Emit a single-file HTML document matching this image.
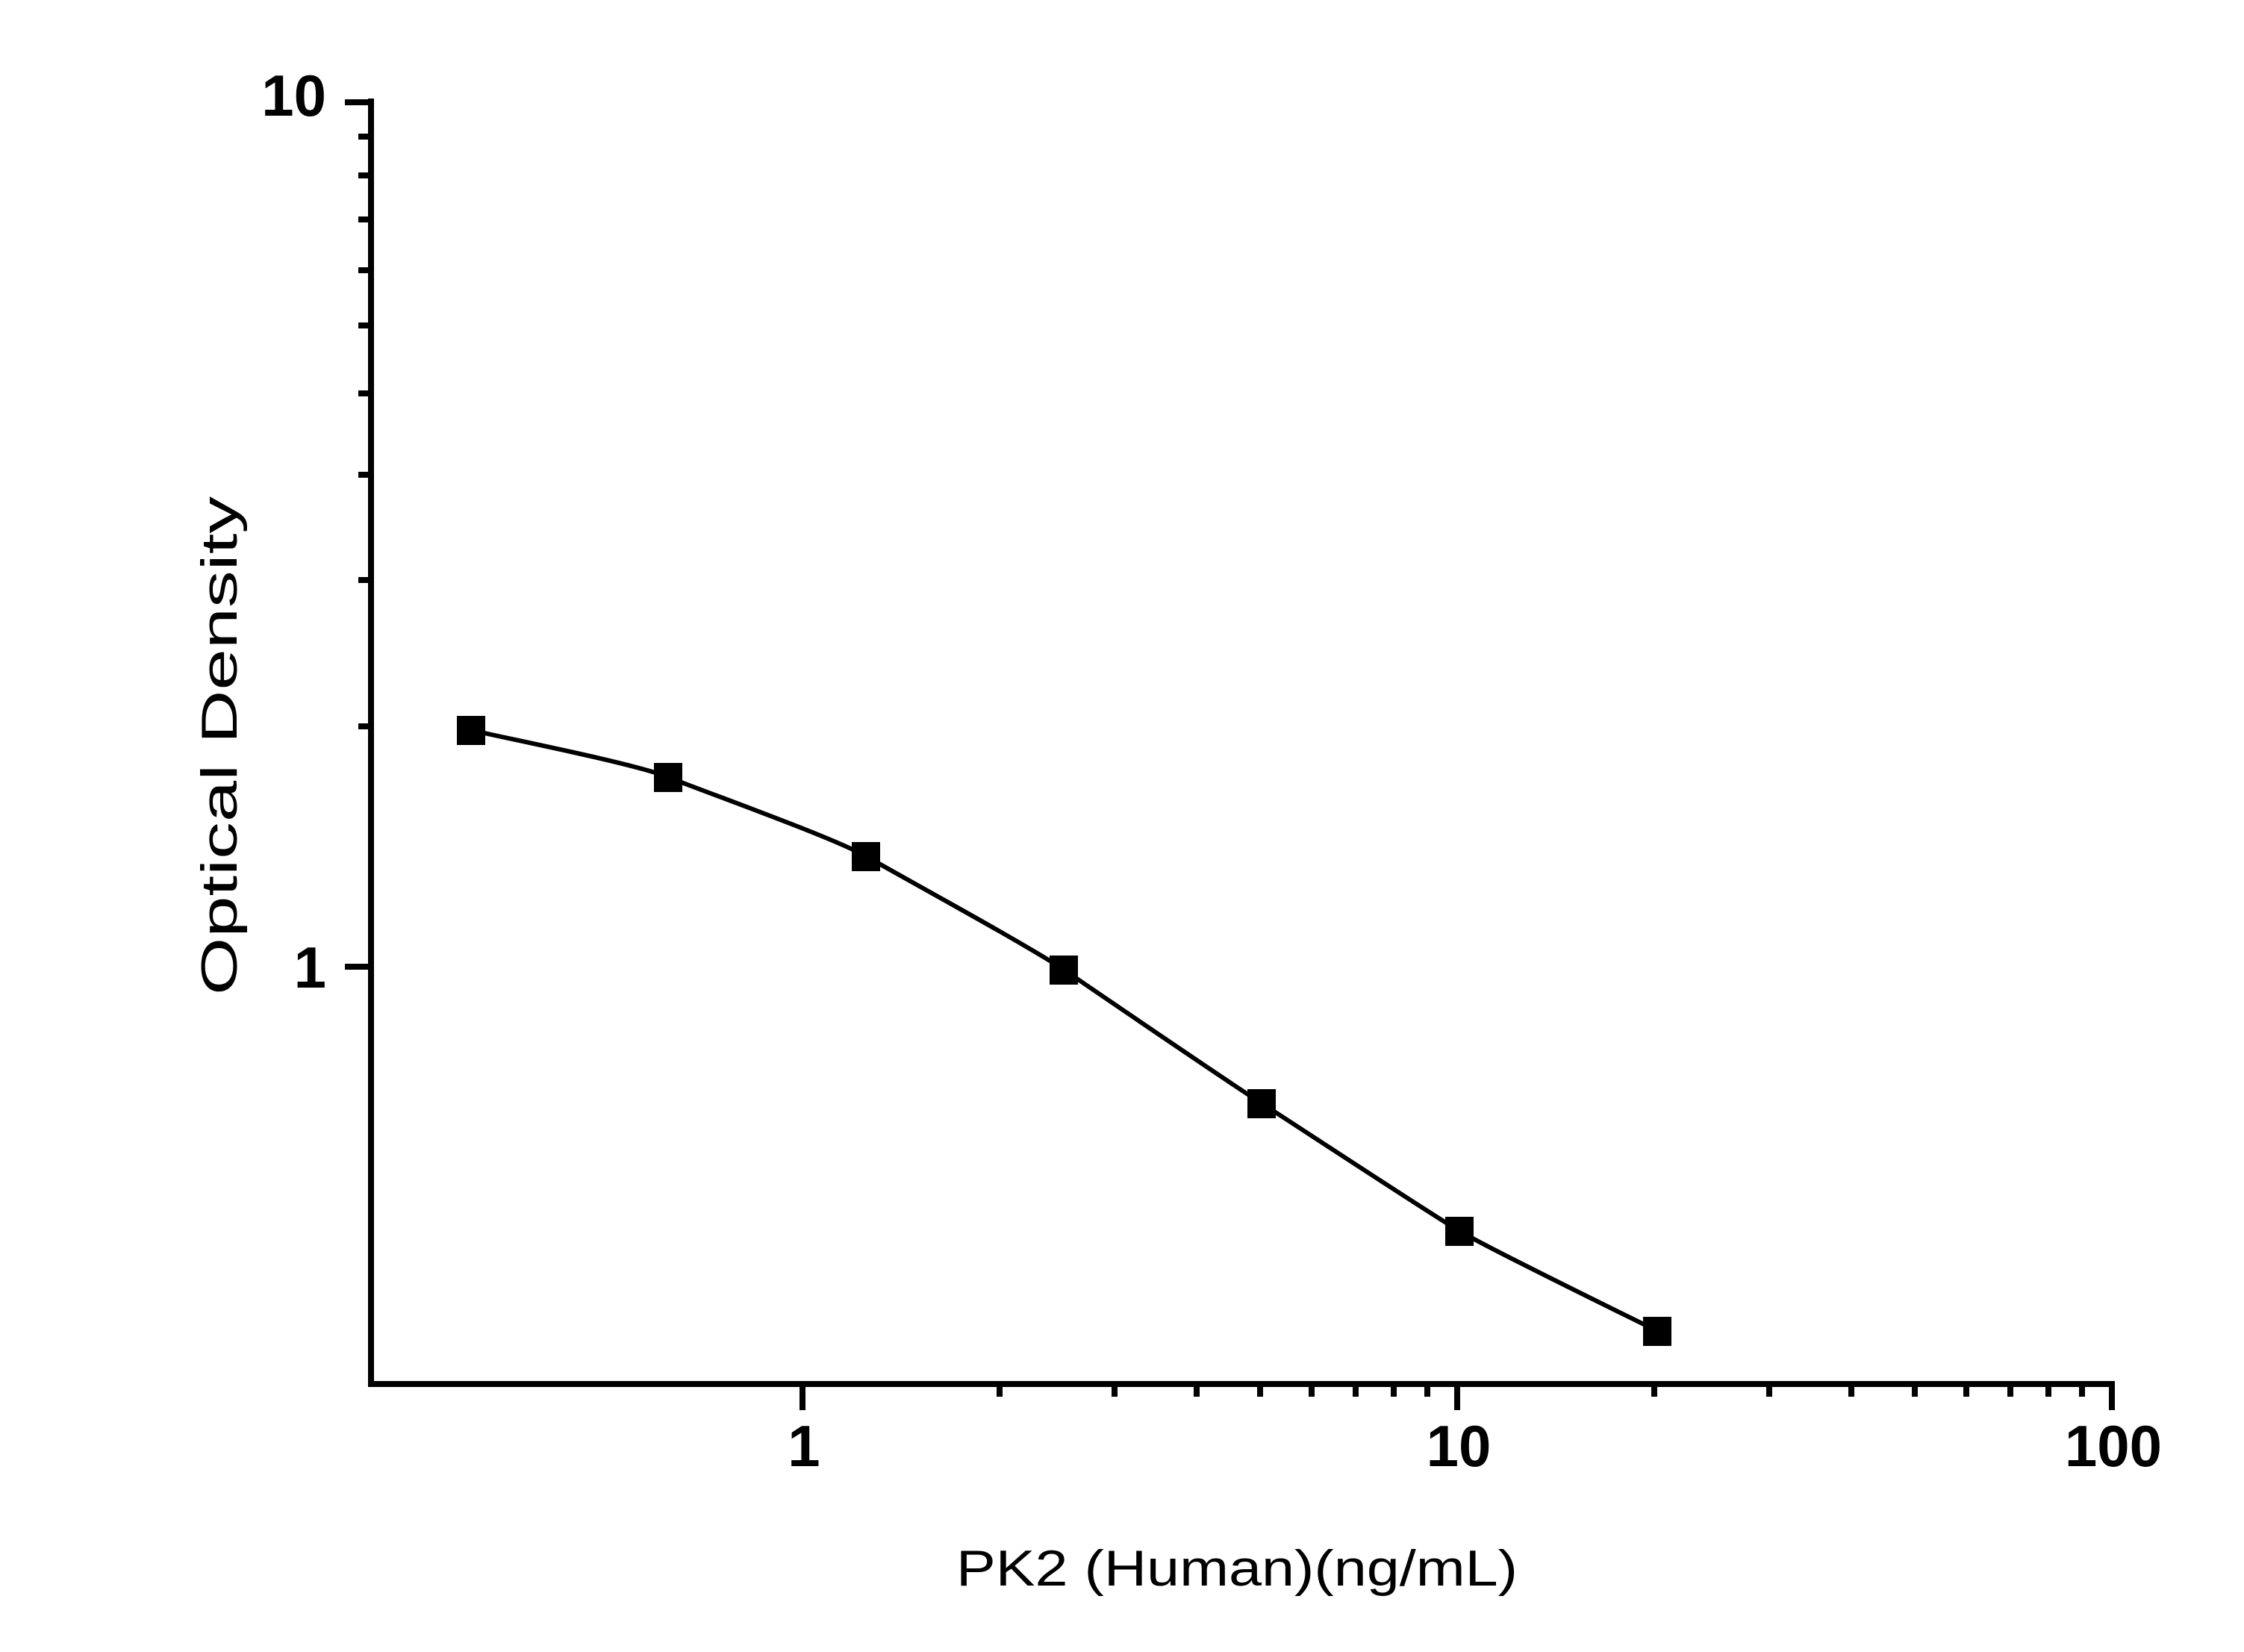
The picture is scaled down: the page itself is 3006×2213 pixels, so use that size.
<!DOCTYPE html>
<html><head><meta charset="utf-8"><style>
html,body{margin:0;padding:0;background:#fff;}
svg{display:block;}
</style></head><body>
<svg width="3006" height="2213" viewBox="0 0 3006 2213" xmlns="http://www.w3.org/2000/svg">
<rect width="3006" height="2213" fill="#fff"/>
<g stroke="#000" stroke-width="8" fill="none">
<path d="M497,132 V1858 M493,1854 H2833"/>
<path d="M462,137 H497 M462,1295 H497"/>
<path d="M480,183 H497 M480,235 H497 M480,294 H497 M480,362 H497 M480,436 H497 M480,527 H497 M480,636 H497 M480,777 H497 M480,973 H497"/>
<path d="M1075,1854 V1889 M1952,1854 V1889 M2829,1854 V1889"/>
<path d="M1339,1854 V1871 M1493,1854 V1871 M1603,1854 V1871 M1688,1854 V1871 M1757,1854 V1871 M1816,1854 V1871 M1867,1854 V1871 M1912,1854 V1871 M2216,1854 V1871 M2370,1854 V1871 M2480,1854 V1871 M2565,1854 V1871 M2634,1854 V1871 M2693,1854 V1871 M2744,1854 V1871 M2789,1854 V1871"/>
</g>
<path d="M631,978 C675,988.5 851,1023 895,1041 C939,1059 1116,1121.7 1160,1147 C1204,1172.3 1381,1269 1425,1299 C1469,1329 1646,1450 1690,1478 C1734,1506 1911,1623 1955,1649 C1999,1675 2176,1761 2220,1783" stroke="#000" stroke-width="6" fill="none"/>
<g fill="#000">
<rect x="612" y="959" width="38" height="39"/>
<rect x="876" y="1022" width="38" height="39"/>
<rect x="1141" y="1128" width="38" height="39"/>
<rect x="1406" y="1280" width="38" height="39"/>
<rect x="1671" y="1459" width="38" height="39"/>
<rect x="1936" y="1630" width="38" height="39"/>
<rect x="2201" y="1764" width="38" height="39"/>
</g>
<g font-family="Liberation Sans, Arial, sans-serif" font-weight="bold" font-size="78" fill="#000">
<text x="437" y="155" text-anchor="end">10</text>
<text x="437" y="1323" text-anchor="end">1</text>
<text x="1077" y="1964" text-anchor="middle">1</text>
<text x="1954" y="1964" text-anchor="middle">10</text>
<text x="2831" y="1964" text-anchor="middle">100</text>
</g>
<g font-family="Liberation Sans, Arial, sans-serif" font-size="68" fill="#000">
<text x="1657" y="2124" text-anchor="middle" textLength="752" lengthAdjust="spacingAndGlyphs">PK2 (Human)(ng/mL)</text>
<text transform="translate(317,999) rotate(-90)" text-anchor="middle" textLength="668" lengthAdjust="spacingAndGlyphs">Optical Density</text>
</g>
</svg>
</body></html>
